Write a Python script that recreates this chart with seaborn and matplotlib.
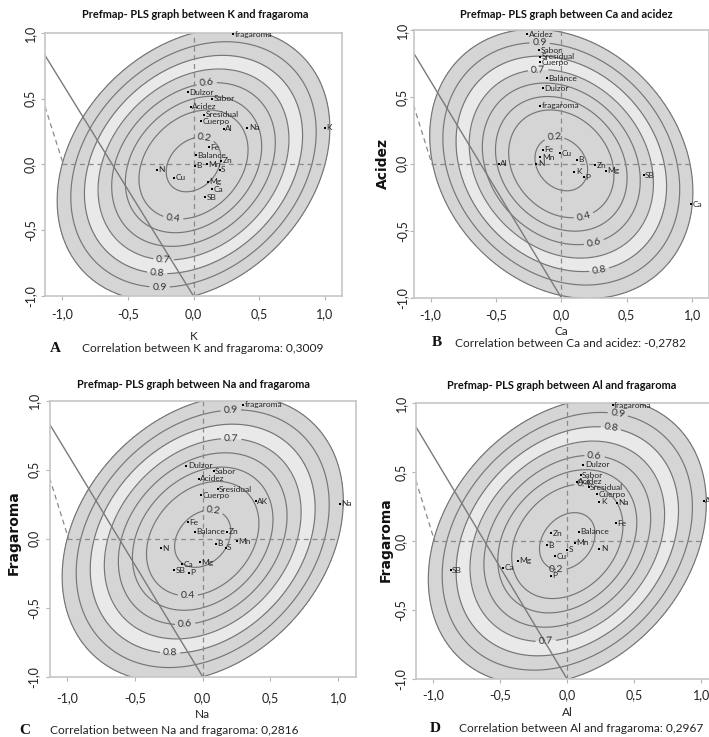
import numpy as np
import pandas as pd
import matplotlib
matplotlib.use("Agg")
import matplotlib.pyplot as plt
import seaborn as sns

# ---------------------------------------------------------------- data
# Panel A: K vs fragaroma
a_names = ["fragaroma", "Dulzor", "Sabor", "Acidez", "Sresidual", "Cuerpo", "Al", "Na", "K",
           "Fe", "Balance", "Zn", "B", "Mn", "S", "N", "Cu", "Mg", "Ca", "SB"]
a_x = [0.30, -0.04, 0.14, -0.02, 0.08, 0.06, 0.23, 0.41, 1.00,
       0.12, 0.02, 0.21, 0.01, 0.10, 0.20, -0.28, -0.15, 0.11, 0.14, 0.09]
a_y = [0.99, 0.55, 0.50, 0.44, 0.38, 0.33, 0.27, 0.28, 0.28,
       0.13, 0.07, 0.03, -0.01, 0.00, -0.04, -0.04, -0.10, -0.13, -0.19, -0.25]

# Panel B: Ca vs acidez
b_names = ["Acidez", "Sabor", "Sresidual", "Cuerpo", "Balance", "Dulzor", "fragaroma", "Fe", "Cu",
           "Mn", "N", "Al", "B", "Zn", "Mg", "K", "P", "SB", "Ca"]
b_x = [-0.26, -0.17, -0.16, -0.16, -0.11, -0.14, -0.16, -0.14, -0.01,
       -0.16, -0.19, -0.48, 0.12, 0.26, 0.34, 0.10, 0.17, 0.63, 0.99]
b_y = [0.97, 0.85, 0.80, 0.76, 0.64, 0.565, 0.435, 0.105, 0.08,
       0.05, 0.00, 0.00, 0.03, -0.01, -0.05, -0.06, -0.10, -0.085, -0.30]

# Panel C: Na vs fragaroma
c_names = ["fragaroma", "Dulzor", "Sabor", "Acidez", "Sresidual", "Cuerpo", "AK", "Na", "Fe",
           "Balance", "Zn", "Mn", "B", "S", "N", "Mg", "Ca", "SB", "P"]
c_x = [0.30, -0.12, 0.08, -0.03, 0.11, -0.01, 0.39, 1.01, -0.11,
       -0.06, 0.18, 0.25, 0.10, 0.17, -0.31, -0.02, -0.15, -0.21, -0.10]
c_y = [0.97, 0.53, 0.49, 0.435, 0.36, 0.315, 0.27, 0.255, 0.12,
       0.05, 0.05, -0.02, -0.035, -0.065, -0.07, -0.17, -0.185, -0.23, -0.245]

# Panel D: Al vs fragaroma
d_names = ["fragaroma", "Dulzor", "Sabor", "Acidez", "Sresidual", "Cuerpo", "K", "Na", "Al", "Fe",
           "Balance", "Zn", "Mn", "B", "S", "N", "Cu", "Mg", "Ca", "SB", "P"]
d_x = [0.34, 0.12, 0.10, 0.07, 0.16, 0.22, 0.24, 0.37, 1.02, 0.36,
       0.09, -0.12, 0.06, -0.15, 0.00, 0.24, -0.09, -0.37, -0.48, -0.87, -0.12]
d_y = [0.985, 0.555, 0.48, 0.43, 0.39, 0.34, 0.285, 0.28, 0.295, 0.13,
       0.07, 0.06, -0.01, -0.03, -0.06, -0.055, -0.11, -0.14, -0.19, -0.21, -0.25]

correlations = ["0,3009", "-0,2782", "0,2816", "0,2967"]
x_variables = ["K", "Ca", "Na", "Al"]
y_variables = ["fragaroma", "acidez", "fragaroma", "fragaroma"]
y_axis_titles = [None, "Acidez", "Fragaroma", "Fragaroma"]
panel_letters = ["A", "B", "C", "D"]

tick_values = [-1.0, -0.5, 0.0, 0.5, 1.0]
tick_labels = ["-1,0", "-0,5", "0,0", "0,5", "1,0"]

# preference contour levels (share of consumers)
contour_levels = [0.2, 0.4, 0.5, 0.6, 0.7, 0.8, 0.9, 1.0]

# boundary lines common to every map
solid_bound_x = [-1.13, 0.0]
solid_bound_y = [0.83, -1.0]
dashed_bound_x = [-1.13, -0.99]
dashed_bound_y = [0.44, 0.0]
axis_span = [-1.0, 1.0]
axis_zero = [0.0, 0.0]

# ---------------------------------------------------------------- style
sns.set_theme(style="white")
plt.rcParams["font.family"] = ["Lato", "DejaVu Sans"]

W, H = 709, 737
MID = "#d5d5d5"
LIGHT = "#e9e9e9"
LINE = "#767676"
TXT = "#262626"

# quadratic form (A, B, C) of the preference surface: A x^2 + 2B xy + C y^2
POS_SHAPE = (1.0, -0.266, 1.0)
NEG_SHAPE = (1.033, 0.215, 1.033)

panels = [
    dict(names=a_names, x=a_x, y=a_y, shape=POS_SHAPE,
         rect=(45, 33, 297, 263), title=(195, 14), xl=(193.3, 336.7), yl=None,
         letter=(55, 348), cap=(81.7, 349), xpad=6.0, ypad=3.5,
         clev=[0.2, 0.4, 0.6, 0.7, 0.8, 0.9],
         cpos=[(0.08, 0.20), (-0.15, -0.40), (0.10, 0.62), (-0.22, -0.70), (-0.27, -0.81), (-0.25, -0.905)]),
    dict(names=b_names, x=b_x, y=b_y, shape=NEG_SHAPE,
         rect=(413.5, 30, 295.6, 267.7), title=(566.5, 14), xl=(561.3, 331.7), yl=(383.3, 163.3),
         letter=(437.3, 343), cap=(454.7, 343), xpad=5.0, ypad=1.0,
         clev=[0.2, 0.4, 0.6, 0.7, 0.8, 0.9],
         cpos=[(-0.056, 0.21), (0.17, -0.39), (0.25, -0.59), (-0.176, 0.70), (0.29, -0.795), (-0.168, 0.917)]),
    dict(names=c_names, x=c_x, y=c_y, shape=POS_SHAPE,
         rect=(49.6, 400.7, 306.2, 276), title=(193.8, 385), xl=(202.7, 715), yl=(13.3, 533),
         letter=(25, 730), cap=(50, 730), xpad=8.0, ypad=4.0,
         clev=[0.2, 0.4, 0.6, 0.7, 0.8, 0.9],
         cpos=[(0.09, 0.24), (-0.106, -0.40), (-0.125, -0.60), (0.20, 0.69), (-0.234, -0.807), (0.20, 0.90)]),
    dict(names=d_names, x=d_x, y=d_y, shape=POS_SHAPE,
         rect=(415.9, 403.3, 302.8, 276), title=(561.5, 386), xl=(567.3, 712.3), yl=(385.7, 540),
         letter=(435.7, 728.3), cap=(459, 728.3), xpad=4.0, ypad=3.5,
         clev=[0.2, 0.4, 0.6, 0.7, 0.8, 0.9],
         cpos=[(-0.08, -0.20), (0.12, 0.39), (0.20, 0.61), (-0.16, -0.725), (0.32, 0.81), (0.37, 0.906)]),
]


def fx(px):
    return px / W


def fy(py):
    return 1 - py / H


def level_of(x, y, shape):
    a, b, c = shape
    return np.sqrt(a * x ** 2 + 2 * b * x * y + c * y ** 2)


fig = plt.figure(figsize=(W / 100, H / 100), dpi=100)
fig.patch.set_facecolor("white")

grid = np.linspace(-1.35, 1.35, 541)
GX, GY = np.meshgrid(grid, grid)

for i, p in enumerate(panels):
    l, t, w, h = p["rect"]
    ax = fig.add_axes([fx(l), fy(t + h), w / W, h / H])
    ax.set_facecolor("white")
    ax.set_xlim(-1.13, 1.13)
    ax.set_ylim(-1.0, 1.0)
    Z = level_of(GX, GY, p["shape"])

    ax.contourf(GX, GY, Z, levels=[0, 0.7, 0.8, 1.0], colors=[MID, LIGHT, MID], zorder=0)
    cs = ax.contour(GX, GY, Z, levels=contour_levels, colors=LINE, linewidths=0.85, zorder=1)
    spots = []
    for lv, (px, py) in zip(p["clev"], p["cpos"]):
        s = level_of(px, py, p["shape"])
        spots.append((px * lv / s, py * lv / s))
    ax.clabel(cs, manual=spots, inline=True, inline_spacing=3, fontsize=7.5,
              fmt="%.1f", colors="#333333")

    # reference axes and boundary lines
    ax.plot(axis_span, axis_zero, color="#8a8a8a", lw=0.9, ls=(0, (4, 3)), zorder=2)
    ax.plot(axis_zero, axis_span, color="#8a8a8a", lw=0.9, ls=(0, (4, 3)), zorder=2)
    ax.plot(solid_bound_x, solid_bound_y, color="#7a7a7a", lw=1.0, zorder=2)
    ax.plot(dashed_bound_x, dashed_bound_y, color="#8a8a8a", lw=0.9, ls=(0, (4, 3)), zorder=2)

    df = pd.DataFrame({"name": p["names"], "x": p["x"], "y": p["y"]})
    sns.scatterplot(data=df, x="x", y="y", marker="s", s=2.2, color="black", linewidth=0,
                    ax=ax, zorder=4, legend=False)
    for _, row in df.iterrows():
        ax.annotate(row["name"], (row["x"], row["y"]), xytext=(1.0, 0), textcoords="offset points",
                    fontsize=6, ha="left", va="center", color=TXT, zorder=5,
                    annotation_clip=False)

    ax.set_xlim(-1.13, 1.13)
    ax.set_ylim(-1.0, 1.0)
    ax.set_xlabel("")
    ax.set_ylabel("")
    ax.set_xticks(tick_values)
    ax.set_xticklabels(tick_labels)
    ax.set_yticks(tick_values)
    ax.set_yticklabels(tick_labels, rotation=90, va="center")
    ax.tick_params(axis="both", bottom=True, left=True, length=3, width=0.8,
                   color="#b5b5b5", labelsize=9, labelcolor="#222222")
    ax.tick_params(axis="x", pad=p["xpad"])
    ax.tick_params(axis="y", pad=p["ypad"])
    ax.grid(False)
    for sp in ax.spines.values():
        sp.set_color("#c6c6c6")
        sp.set_linewidth(1.2)

    # titles and captions
    fig.text(fx(p["title"][0]), fy(p["title"][1]),
             f"Prefmap- PLS graph between {x_variables[i]} and {y_variables[i]}",
             ha="center", va="center", fontsize=7.9, fontweight="bold", color="#111111")
    fig.text(fx(p["xl"][0]), fy(p["xl"][1]), x_variables[i], ha="center", va="center",
             fontsize=8.5, color="#222222")
    if y_axis_titles[i]:
        fig.text(fx(p["yl"][0]), fy(p["yl"][1]), y_axis_titles[i], ha="center", va="center",
                 rotation=90, fontsize=10, fontweight="bold", family="DejaVu Sans",
                 color="#111111")
    fig.text(fx(p["letter"][0]), fy(p["letter"][1]), panel_letters[i], ha="center", va="center",
             fontsize=11, fontweight="bold", family="Liberation Serif", color="#111111")
    fig.text(fx(p["cap"][0]), fy(p["cap"][1]),
             f"Correlation between {x_variables[i]} and {y_variables[i]}: {correlations[i]}",
             ha="left", va="center", fontsize=8.6, color="#222222")

fig.savefig("out.png", dpi=100, facecolor="white")
